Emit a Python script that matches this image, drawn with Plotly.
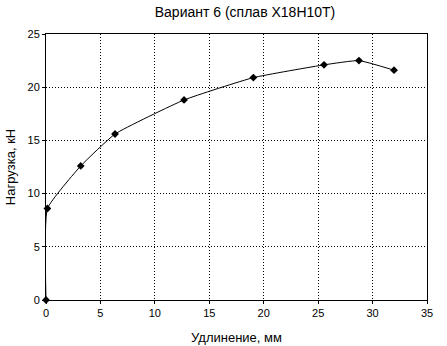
import plotly.graph_objects as go

elong = [0, 0.13, 3.19, 6.34, 12.68, 19.05, 25.54, 28.75, 31.97]
load = [0, 8.6, 12.6, 15.6, 18.8, 20.9, 22.1, 22.5, 21.6]
title_text = "Вариант 6 (сплав Х18Н10Т)"
x_title = "Удлинение, мм"
y_title = "Нагрузка, кН"

fig = go.Figure()
fig.add_trace(go.Scatter(
    x=elong, y=load, mode="lines+markers",
    line=dict(color="black", width=1, shape="spline", smoothing=0.4),
    marker=dict(symbol="diamond", size=6, color="black"),
    showlegend=False, cliponaxis=False,
))

font = "Liberation Sans, Arial, sans-serif"
axis_common = dict(
    showgrid=True, gridcolor="black", griddash="1px,2px", gridwidth=1,
    showline=True, linecolor="black", linewidth=1, mirror=True,
    ticks="outside", ticklen=3, tickcolor="black", automargin=False,
    zeroline=False, tickfont=dict(family=font, size=11, color="black"),
)
fig.update_layout(
    width=447, height=346,
    margin=dict(l=46, r=20, t=34, b=46),
    paper_bgcolor="white", plot_bgcolor="white",
    title=dict(text=title_text, x=245/447, xanchor="center", y=1-12/346, yanchor="middle",
               font=dict(family=font, size=14, color="black")),
    xaxis=dict(range=[0, 35], dtick=5, **axis_common,
               title=dict(text=x_title, font=dict(family=font, size=13, color="black"), standoff=14)),
    yaxis=dict(range=[0, 25], dtick=5, **axis_common,
               title=dict(text=y_title, font=dict(family=font, size=13, color="black"), standoff=8)),
)
fig.write_html("out.html")
